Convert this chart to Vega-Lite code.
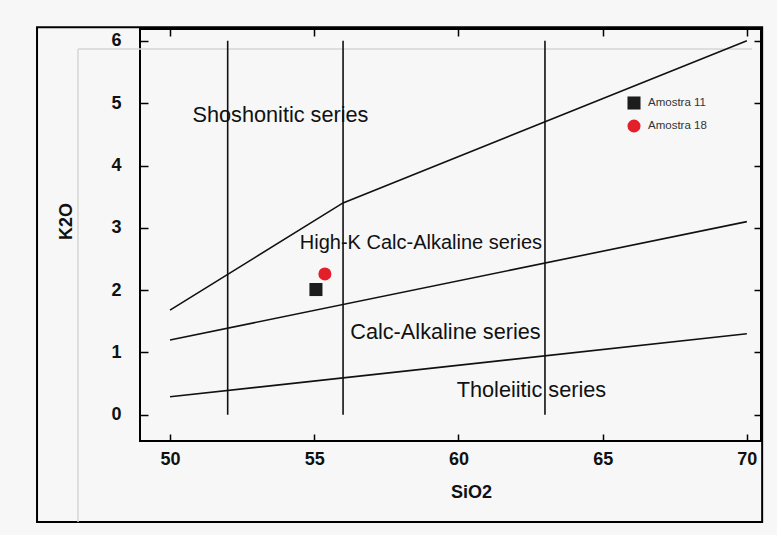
{
  "$schema": "https://vega.github.io/schema/vega-lite/v6.json",
  "autosize": {"type": "none"},
  "width": 621,
  "height": 412,
  "padding": {"left": 140, "top": 29, "right": 16, "bottom": 94},
  "background": "#f7f7f7",
  "config": {
    "view": {"stroke": "#000000", "strokeWidth": 2, "fill": "#f7f7f7"},
    "font": "Liberation Sans"
  },
  "datasets": {
    "frame": [{"x": 45.39, "x2": 70.53, "y": -1.72, "y2": 6.22}],
    "grayframe": [
      {"x": 46.81, "y": 5.87, "x2": 46.81, "y2": -1.72},
      {"x": 46.81, "y": 5.87, "x2": 70.18, "y2": 5.87}
    ],
    "bounds": [
      {"id": "sho", "ord": 1, "x": 50, "y": 1.68},
      {"id": "sho", "ord": 2, "x": 56, "y": 3.40},
      {"id": "sho", "ord": 3, "x": 70, "y": 6.0},
      {"id": "hk", "ord": 1, "x": 50, "y": 1.2},
      {"id": "hk", "ord": 2, "x": 70, "y": 3.1},
      {"id": "th", "ord": 1, "x": 50, "y": 0.29},
      {"id": "th", "ord": 2, "x": 70, "y": 1.3},
      {"id": "v52", "ord": 1, "x": 52, "y": 0},
      {"id": "v52", "ord": 2, "x": 52, "y": 6},
      {"id": "v56", "ord": 1, "x": 56, "y": 0},
      {"id": "v56", "ord": 2, "x": 56, "y": 6},
      {"id": "v63", "ord": 1, "x": 63, "y": 0},
      {"id": "v63", "ord": 2, "x": 63, "y": 6}
    ],
    "labels": [
      {"label": "Shoshonitic series", "x": 53.83, "y": 4.81},
      {"label": "High-K Calc-Alkaline series", "x": 58.70, "y": 2.76},
      {"label": "Calc-Alkaline series", "x": 59.55, "y": 1.33},
      {"label": "Tholeiitic series", "x": 62.53, "y": 0.40}
    ],
    "samples": [
      {"sample": "Amostra 11", "SiO2": 55.06, "K2O": 2.01},
      {"sample": "Amostra 18", "SiO2": 55.37, "K2O": 2.26}
    ]
  },
  "layer": [
    {
      "data": {"name": "frame"},
      "mark": {"type": "rect", "fill": null, "stroke": "#000000", "strokeWidth": 2, "clip": false},
      "encoding": {
        "x": {"field": "x", "type": "quantitative", "scale": {"domain": [48.96, 70.49], "nice": false, "zero": false}, "axis": null},
        "x2": {"field": "x2"},
        "y": {"field": "y", "type": "quantitative", "scale": {"domain": [-0.42, 6.19], "nice": false, "zero": false}, "axis": null},
        "y2": {"field": "y2"}
      }
    },
    {
      "data": {"name": "grayframe"},
      "mark": {"type": "rule", "color": "#d6d6d6", "strokeWidth": 1.5, "clip": false},
      "encoding": {
        "x": {"field": "x", "type": "quantitative", "axis": null},
        "x2": {"field": "x2"},
        "y": {"field": "y", "type": "quantitative", "axis": null},
        "y2": {"field": "y2"}
      }
    },
    {
      "data": {"name": "bounds"},
      "mark": {"type": "line", "color": "#111111", "strokeWidth": 1.6},
      "encoding": {
        "x": {"field": "x", "type": "quantitative",
          "axis": {"orient": "bottom", "values": [50, 55, 60, 65, 70], "tickSize": -7, "tickWidth": 1.5, "tickColor": "#000000", "domain": false, "grid": false,
            "labelFont": "Liberation Sans", "labelFontSize": 18, "labelFontWeight": "bold", "labelColor": "#111111", "labelPadding": 16,
            "title": "SiO2", "titleFont": "Liberation Sans", "titleFontSize": 18, "titleFontWeight": "bold", "titleColor": "#111111",
            "titleX": 331, "titleY": 51, "titleBaseline": "middle", "titleAlign": "center"}},
        "y": {"field": "y", "type": "quantitative",
          "axis": {"orient": "left", "values": [0, 1, 2, 3, 4, 5, 6], "tickSize": -8, "tickWidth": 1.5, "tickColor": "#000000", "domain": false, "grid": false,
            "labelFont": "Liberation Sans", "labelFontSize": 18, "labelFontWeight": "bold", "labelColor": "#111111", "labelPadding": 27,
            "title": "K2O", "titleFont": "Liberation Sans", "titleFontSize": 18, "titleFontWeight": "bold", "titleColor": "#111111",
            "titleX": -74, "titleY": 192, "titleBaseline": "middle", "titleAlign": "center", "titleAngle": -90}},
        "detail": {"field": "id"},
        "order": {"field": "ord"}
      }
    },
    {
      "data": {"name": "labels"},
      "transform": [{"filter": "datum.label !== 'High-K Calc-Alkaline series'"}],
      "mark": {"type": "text", "font": "Liberation Sans", "fontSize": 21.7, "color": "#111111", "align": "center", "baseline": "middle"},
      "encoding": {
        "x": {"field": "x", "type": "quantitative", "axis": null},
        "y": {"field": "y", "type": "quantitative", "axis": null},
        "text": {"field": "label"}
      }
    },
    {
      "data": {"name": "labels"},
      "transform": [{"filter": "datum.label === 'High-K Calc-Alkaline series'"}],
      "mark": {"type": "text", "font": "Liberation Sans", "fontSize": 20, "color": "#111111", "align": "center", "baseline": "middle"},
      "encoding": {
        "x": {"field": "x", "type": "quantitative", "axis": null},
        "y": {"field": "y", "type": "quantitative", "axis": null},
        "text": {"field": "label"}
      }
    },
    {
      "data": {"name": "samples"},
      "mark": {"type": "point", "filled": true, "size": 170, "opacity": 1},
      "encoding": {
        "x": {"field": "SiO2", "type": "quantitative",
          "axis": {"orient": "top", "values": [50, 55, 60, 65, 70], "tickSize": -7, "tickWidth": 1.5, "tickColor": "#000000", "domain": false, "grid": false, "labels": false, "title": null}},
        "y": {"field": "K2O", "type": "quantitative",
          "axis": {"orient": "right", "values": [0, 1, 2, 3, 4, 5, 6], "tickSize": -7, "tickWidth": 1.5, "tickColor": "#000000", "domain": false, "grid": false, "labels": false, "title": null}},
        "color": {"field": "sample", "type": "nominal",
          "scale": {"domain": ["Amostra 11", "Amostra 18"], "range": ["#1c1c1c", "#e3202a"]},
          "legend": {"orient": "none", "legendX": 487, "legendY": 67, "title": null, "padding": 0, "rowPadding": 9, "labelOffset": 7,
            "labelFont": "Liberation Sans", "labelFontSize": 11.5, "labelColor": "#333333", "symbolSize": 170, "symbolStrokeWidth": 0}},
        "shape": {"field": "sample", "type": "nominal",
          "scale": {"domain": ["Amostra 11", "Amostra 18"], "range": ["square", "circle"]}}
      }
    }
  ],
  "resolve": {"axis": {"x": "independent", "y": "independent"}}
}
